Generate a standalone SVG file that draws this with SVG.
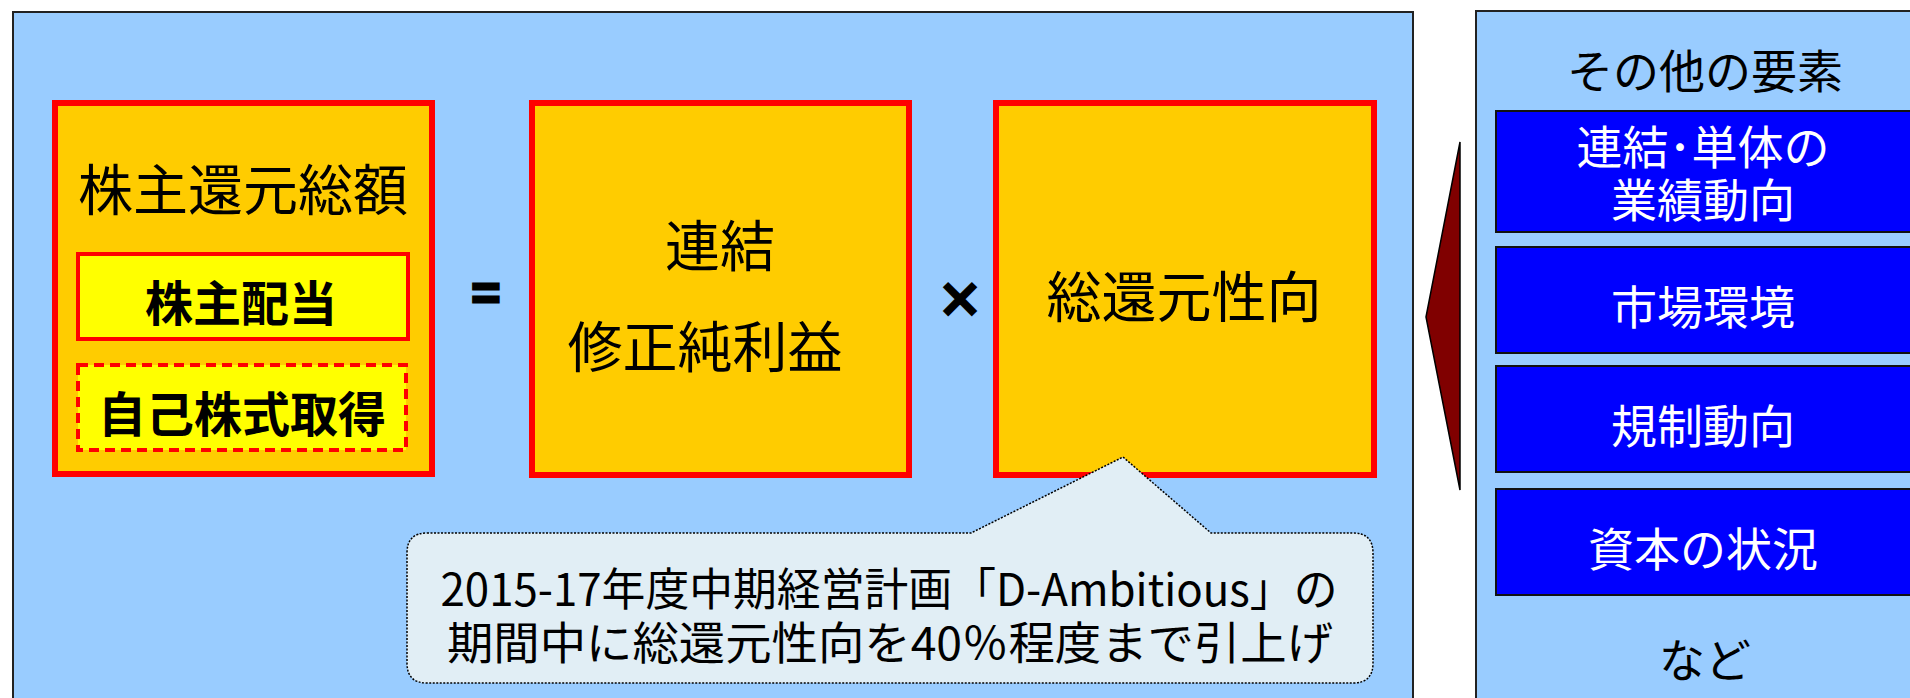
<svg xmlns="http://www.w3.org/2000/svg" width="1910" height="698" viewBox="0 0 1910 698">
<style>
text{font-family:"Noto Sans CJK JP","Noto Sans",sans-serif;text-anchor:middle;dominant-baseline:central;fill:#000}
.panel{fill:#99CCFF;stroke:#222;stroke-width:2}
.box{fill:#FFCC00;stroke:#FF0000;stroke-width:6}
.sub{fill:#FFFF00;stroke:#FF0000;stroke-width:4}
.dash{stroke-dasharray:10 6}
.blue{fill:#0000FF;stroke:#111;stroke-width:2}
.w{fill:#FFFFFF}
.big{font-size:55px}
.bold{font-weight:bold;font-size:48px}
.rt{font-size:46px}
.op{font-weight:bold;stroke:#000;stroke-width:3}
</style>
<rect id="main-panel" class="panel" x="13" y="12" width="1400" height="700"/>
<rect id="side-panel" class="panel" x="1476" y="11" width="460" height="700"/>
<g id="total-return">
<rect class="box" x="55" y="103" width="377" height="371"/>
<text class="big" x="243" y="186">株主還元総額</text>
<g id="dividend"><rect class="sub" x="78" y="254" width="330" height="85"/><text class="bold" x="241" y="300">株主配当</text></g>
<g id="buyback"><rect class="sub dash" x="78" y="365" width="328" height="85"/><text class="bold" x="242" y="411">自己株式取得</text></g>
</g>
<g id="op-eq"><text class="op" style="font-size:48px" x="486" y="290">=</text></g>
<g id="net-income">
<rect class="box" x="532" y="103" width="377" height="372"/>
<text class="big" x="720" y="242">連結</text>
<text class="big" x="705" y="343">修正純利益</text>
</g>
<g id="op-times"><text class="op" style="font-size:46px" x="960" y="296">×</text></g>
<g id="payout-ratio">
<rect class="box" x="996" y="103" width="378" height="372"/>
<text class="big" x="1184" y="293">総還元性向</text>
</g>
<g id="callout">
<path d="M427,533 L971,533 L1123,457 L1211,533 L1353,533 Q1373,533 1373,553 L1373,663 Q1373,683 1353,683 L427,683 Q407,683 407,663 L407,553 Q407,533 427,533 Z" fill="#E1EEF5" stroke="#000" stroke-width="1.5" stroke-dasharray="2 1.5"/>
<text style="font-size:45px" x="889" y="586" textLength="897" lengthAdjust="spacingAndGlyphs">2015-17年度中期経営計画「D-Ambitious」の</text>
<text style="font-size:45px" x="890" y="640" textLength="886" lengthAdjust="spacingAndGlyphs">期間中に総還元性向を40％程度まで引上げ</text>
</g>
<g id="connectors">
<polygon points="1426,317 1460,142 1460,490" fill="#800000" stroke="#000" stroke-width="1.5"/>
</g>
<g id="other-factors">
<text class="rt" x="1705" y="68">その他の要素</text>
<g id="f1"><rect class="blue" x="1496" y="111" width="430" height="121"/><text class="rt w" x="1703" y="144">連結･単体の</text><text class="rt w" x="1703" y="197">業績動向</text></g>
<g id="f2"><rect class="blue" x="1496" y="247" width="430" height="106"/><text class="rt w" x="1703" y="304">市場環境</text></g>
<g id="f3"><rect class="blue" x="1496" y="366" width="430" height="106"/><text class="rt w" x="1703" y="423">規制動向</text></g>
<g id="f4"><rect class="blue" x="1496" y="489" width="430" height="106"/><text class="rt w" x="1703" y="546">資本の状況</text></g>
<text class="rt" x="1705" y="657">など</text>
</g>
</svg>
